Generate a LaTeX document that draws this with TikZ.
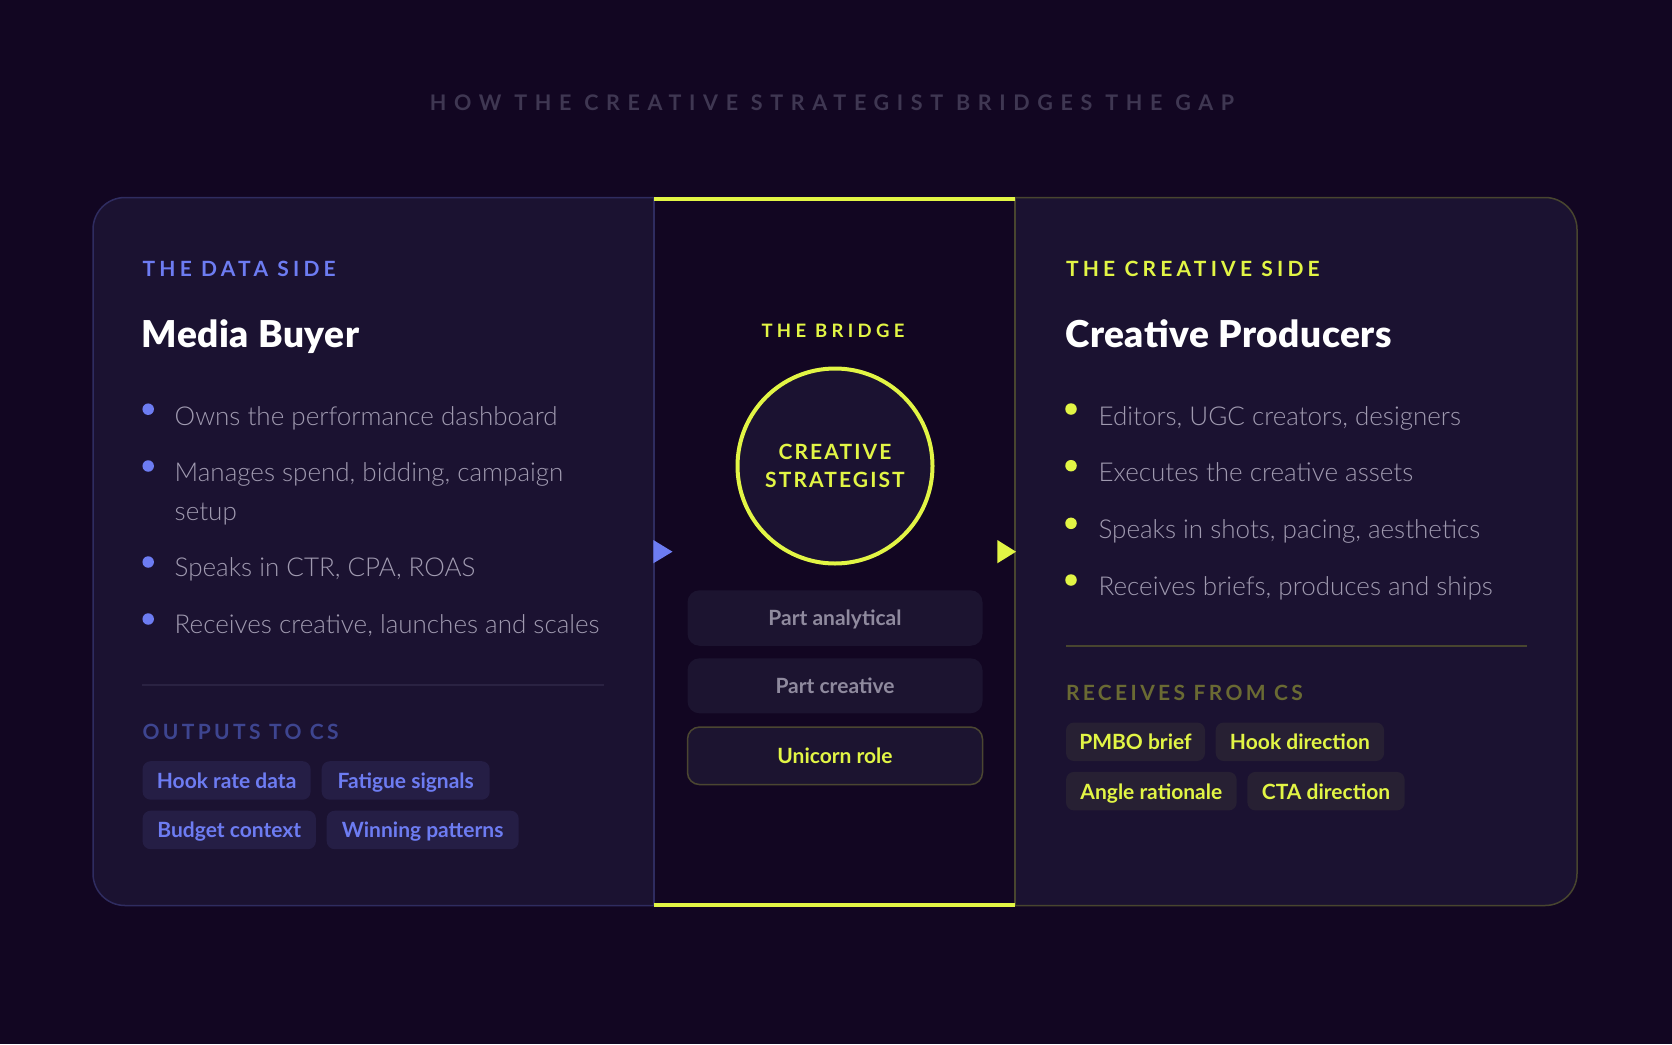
\documentclass[tikz,border=0pt]{standalone}
\usepackage{fontspec}
\setmainfont{Lato}
\newfontfamily\lightfont{Lato Light}
\newfontfamily\headfont{Lato Black}[LetterSpace=1.5]
\newfontfamily\titlefont{Lato}[LetterSpace=35.5]
\newfontfamily\labelfont{Lato}[LetterSpace=20]
\newfontfamily\sublabelfont{Lato}[LetterSpace=16]
\newfontfamily\bridgefont{Lato}[LetterSpace=23.5]
\newfontfamily\circfont{Lato}[LetterSpace=10]
\definecolor{bg}{HTML}{120622}
\definecolor{panel}{HTML}{1B1231}
\definecolor{lborder}{HTML}{2F2C60}
\definecolor{rborder}{HTML}{48452F}
\definecolor{ylw}{HTML}{E2F545}
\definecolor{blu}{HTML}{6D7CF2}
\definecolor{bulltxt}{HTML}{A09AB0}
\definecolor{titlegrey}{HTML}{3F3752}
\definecolor{outlbl}{HTML}{3E4590}
\definecolor{reclbl}{HTML}{6A6A33}
\definecolor{ltag}{HTML}{251E45}
\definecolor{rtag}{HTML}{272033}
\definecolor{midbox}{HTML}{1C1430}
\definecolor{midtxt}{HTML}{8F8A9E}
\definecolor{uniborder}{HTML}{4B4631}
\definecolor{divider}{HTML}{2A2242}
\newcommand{\fsz}[1]{\fontsize{#1}{#1}\selectfont}
\tikzset{
  sectlbl/.style={anchor=base west, inner sep=0, font=\labelfont\bfseries\fsz{21}},
  sublbl/.style={anchor=base west, inner sep=0, font=\sublabelfont\bfseries\fsz{21}},
  heading/.style={anchor=base west, inner sep=0, text=white, font=\headfont\fsz{37}},
  btxt/.style={anchor=base west, inner sep=0, text=bulltxt, font=\lightfont\fsz{26}},
  bdot/.style={circle, inner sep=0, minimum size=11.5pt},
  tagbox/.style={anchor=north west, rounded corners=8pt, inner sep=0, minimum height=38.5pt, font=\bfseries\fsz{21}, text height=16pt, text depth=0pt},
  midbx/.style={rounded corners=12pt, inner sep=0, minimum width=295pt, font=\bfseries\fsz{21}, text height=15pt, text depth=0pt}
}
\begin{document}
\begin{tikzpicture}[x=1pt,y=-1pt]
\fill[bg] (0,0) rectangle (1672,1044);
\useasboundingbox (0,0) rectangle (1672,1044);

% title
\node[anchor=base, inner sep=0, text=titlegrey, font=\titlefont\bfseries\fsz{21.5}] (title) at (832,110.5) {HOW THE CREATIVE STRATEGIST BRIDGES THE GAP};

% panels
\begin{scope}
  \clip (0,0) rectangle (654,1044);
  \draw[fill=panel, draw=lborder, line width=1.5pt, rounded corners=32pt] (93,197.5) rectangle (720,905.5);
\end{scope}
\begin{scope}
  \clip (1015,0) rectangle (1672,1044);
  \draw[fill=panel, draw=rborder, line width=1.5pt, rounded corners=32pt] (950,197.5) rectangle (1577,905.5);
\end{scope}
\draw[lborder, line width=1.5pt] (654,197.5) -- (654,905.5);
\draw[rborder, line width=1.5pt] (1015,197.5) -- (1015,905.5);
\draw[ylw, line width=4pt] (654,199) -- (1015,199);
\draw[ylw, line width=4pt] (654,904.5) -- (1015,904.5);

% left panel
\node[sectlbl, text=blu] (dataside) at (142.4,276.3) {THE DATA SIDE};
\node[heading] (mediabuyer) at (141.5,347.5) {Media Buyer};
\node[bdot, fill=blu] (ld1) at (148.2,409.2) {};
\node[btxt] (lb1) at (174.5,425) {Owns the performance dashboard};
\node[bdot, fill=blu] (ld2) at (148.2,466) {};
\node[btxt] (lb2) at (174.5,481.7) {Manages spend, bidding, campaign};
\node[btxt] (lb2b) at (174.5,520) {setup};
\node[bdot, fill=blu] (ld3) at (148.2,562) {};
\node[btxt] (lb3) at (174.5,576.7) {Speaks in CTR, CPA, ROAS};
\node[bdot, fill=blu] (ld4) at (148.2,619) {};
\node[btxt] (lb4) at (174.5,633.3) {Receives creative, launches and scales};
\draw[divider, line width=1.5pt] (142.4,685) -- (604.3,685);
\node[sublbl, text=outlbl] (outputs) at (142.4,739) {OUTPUTS TO CS};
\node[tagbox, fill=ltag, text=blu, minimum width=168pt] (t1) at (142.4,761) {Hook rate data};
\node[tagbox, fill=ltag, text=blu, minimum width=168pt] (t2) at (321.5,761) {Fatigue signals};
\node[tagbox, fill=ltag, text=blu, minimum width=173.3pt] (t3) at (142.4,810.5) {Budget context};
\node[tagbox, fill=ltag, text=blu, minimum width=192pt] (t4) at (326.5,810.5) {Winning patterns};

% middle
\node[anchor=base, inner sep=0, text=ylw, font=\bridgefont\bfseries\fsz{18.5}] (bridge) at (833,337.3) {THE BRIDGE};
\node[circle, draw=ylw, line width=4pt, fill=panel, minimum size=195pt, inner sep=0] (cs) at (835,466) {};
\node[inner sep=0, text=ylw, font=\circfont\bfseries\fsz{21}, anchor=base] (cs1) at (835,459) {CREATIVE};
\node[inner sep=0, text=ylw, font=\circfont\bfseries\fsz{21}, anchor=base] (cs2) at (835,487) {STRATEGIST};
\fill[blu] (653.3,540) -- (672.5,551.7) -- (653.3,563.3) -- cycle;
\fill[ylw] (997.3,540) -- (1016,551.7) -- (997.3,563.3) -- cycle;
\node[midbx, fill=midbox, text=midtxt, minimum height=55.5pt] (pa) at (835,618) {Part analytical};
\node[midbx, fill=midbox, text=midtxt, minimum height=55pt] (pc) at (835,685.8) {Part creative};
\node[midbx, fill=midbox, draw=uniborder, line width=1.5pt, text=ylw, minimum height=57.5pt] (ur) at (835,755.8) {Unicorn role};

% right panel
\node[sectlbl, text=ylw] (creativeside) at (1065.8,276.3) {THE CREATIVE SIDE};
\node[heading] (producers) at (1065,347.5) {Creative Producers};
\node[bdot, fill=ylw] (rd1) at (1071,409) {};
\node[btxt] (rb1) at (1098.4,425) {Editors, UGC creators, designers};
\node[bdot, fill=ylw] (rd2) at (1071,465.7) {};
\node[btxt] (rb2) at (1098.4,481.7) {Executes the creative assets};
\node[bdot, fill=ylw] (rd3) at (1071,523.3) {};
\node[btxt] (rb3) at (1098.4,538.3) {Speaks in shots, pacing, aesthetics};
\node[bdot, fill=ylw] (rd4) at (1071,580) {};
\node[btxt] (rb4) at (1098.4,595) {Receives briefs, produces and ships};
\draw[rborder, line width=1.5pt] (1065.8,646) -- (1527.4,646);
\node[sublbl, text=reclbl] (receives) at (1065.8,700) {RECEIVES FROM CS};
\node[tagbox, fill=rtag, text=ylw, minimum width=139pt] (r1) at (1065.8,722.3) {PMBO brief};
\node[tagbox, fill=rtag, text=ylw, minimum width=168.4pt] (r2) at (1215.5,722.3) {Hook direction};
\node[tagbox, fill=rtag, text=ylw, minimum width=170.7pt] (r3) at (1065.8,771.7) {Angle rationale};
\node[tagbox, fill=rtag, text=ylw, minimum width=157.3pt] (r4) at (1247.2,771.7) {CTA direction};
\end{tikzpicture}
\end{document}
